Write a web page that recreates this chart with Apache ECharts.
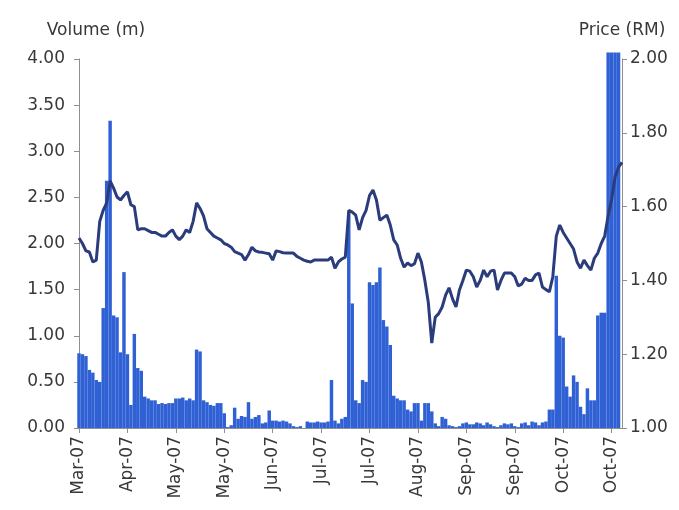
<!DOCTYPE html>
<html>
<head>
<meta charset="utf-8">
<script src="https://cdn.jsdelivr.net/npm/echarts@6/dist/echarts.min.js"></script>
<style>
html,body{margin:0;padding:0;background:#fff;}
#chart{width:679px;height:510px;}
</style>
</head>
<body>
<div id="chart"></div>
<script>
// Tick labels shown every 14 trading days
var xLabels = ['Mar-07','Apr-07','May-07','May-07','Jun-07','Jul-07','Jul-07','Aug-07','Sep-07','Sep-07','Oct-07','Oct-07'];

// Daily volume (million shares)
var volume = [
  0.81, 0.80, 0.78, 0.63, 0.60, 0.52, 0.50, 1.30, 2.68, 3.33,
  1.22, 1.20, 0.82, 1.69, 0.80, 0.25, 1.02, 0.65, 0.62, 0.34,
  0.32, 0.30, 0.30, 0.26, 0.27, 0.26, 0.27, 0.27, 0.32, 0.32,
  0.33, 0.30, 0.32, 0.30, 0.85, 0.83, 0.30, 0.28, 0.25, 0.24,
  0.27, 0.27, 0.16, 0.01, 0.03, 0.22, 0.10, 0.13, 0.12, 0.28,
  0.10, 0.12, 0.14, 0.05, 0.06, 0.19, 0.08, 0.08, 0.07, 0.08,
  0.07, 0.05, 0.02, 0.01, 0.02, 0.00, 0.07, 0.06, 0.06, 0.07,
  0.06, 0.06, 0.07, 0.52, 0.08, 0.05, 0.10, 0.12, 2.33, 1.35,
  0.30, 0.27, 0.52, 0.50, 1.58, 1.55, 1.58, 1.74, 1.17, 1.10,
  0.90, 0.35, 0.32, 0.30, 0.30, 0.20, 0.18, 0.27, 0.27, 0.08,
  0.27, 0.27, 0.18, 0.05, 0.02, 0.12, 0.10, 0.03, 0.02, 0.01,
  0.02, 0.05, 0.06, 0.04, 0.04, 0.06, 0.05, 0.03, 0.06, 0.04,
  0.02, 0.01, 0.03, 0.05, 0.04, 0.05, 0.02, 0.01, 0.05, 0.06,
  0.03, 0.07, 0.06, 0.03, 0.06, 0.07, 0.20, 0.20, 1.65, 1.00,
  0.98, 0.45, 0.34, 0.57, 0.50, 0.23, 0.15, 0.43, 0.30, 0.30,
  1.22, 1.25, 1.25, 4.07, 4.07, 4.07, 4.07, null
];

// Daily closing price (RM)
var price = [
  1.515, 1.50, 1.48, 1.477, 1.45, 1.455, 1.56, 1.59, 1.61, 1.67,
  1.65, 1.626, 1.618, 1.63, 1.64, 1.605, 1.60, 1.537, 1.54, 1.54,
  1.535, 1.53, 1.53, 1.525, 1.52, 1.52, 1.53, 1.537, 1.52, 1.51,
  1.52, 1.537, 1.53, 1.56, 1.61, 1.595, 1.575, 1.54, 1.53, 1.52,
  1.515, 1.51, 1.50, 1.496, 1.49, 1.478, 1.474, 1.47, 1.455, 1.47,
  1.49, 1.48, 1.477, 1.476, 1.474, 1.472, 1.455, 1.48, 1.478, 1.475,
  1.474, 1.474, 1.474, 1.465, 1.46, 1.455, 1.452, 1.45, 1.455, 1.455,
  1.455, 1.455, 1.455, 1.463, 1.433, 1.45, 1.458, 1.463, 1.59, 1.585,
  1.577, 1.537, 1.57, 1.59, 1.63, 1.645, 1.618, 1.563, 1.57, 1.577,
  1.55, 1.51, 1.496, 1.46, 1.436, 1.447, 1.44, 1.445, 1.474, 1.45,
  1.40, 1.34, 1.23, 1.30, 1.31, 1.328, 1.36, 1.38, 1.35, 1.328,
  1.374, 1.40, 1.428, 1.425, 1.41, 1.382, 1.40, 1.428, 1.41, 1.425,
  1.428, 1.374, 1.40, 1.42, 1.42, 1.42, 1.41, 1.385, 1.39, 1.406,
  1.40, 1.40, 1.415, 1.42, 1.382, 1.375, 1.369, 1.41, 1.52, 1.55,
  1.53, 1.515, 1.50, 1.485, 1.45, 1.433, 1.455, 1.44, 1.428, 1.46,
  1.474, 1.50, 1.52, 1.575, 1.62, 1.68, 1.707, 1.72
];

var LABEL_STEP = 14;
var categories = price.map(function (_, i) { return String(i); });

var FONT = 'DejaVu Sans';
var TEXT = '#383838';
var AXIS = '#8f8f8f';

var chart = echarts.init(document.getElementById('chart'), null, {renderer: 'canvas'});
chart.setOption({
  animation: false,
  backgroundColor: '#ffffff',
  grid: {left: 79, right: 57, top: 59, bottom: 82, containLabel: false},
  xAxis: {
    type: 'category',
    data: categories,
    boundaryGap: false,
    axisLine: {lineStyle: {color: AXIS, width: 1}},
    axisTick: {interval: LABEL_STEP - 1, length: 5, lineStyle: {color: AXIS}},
    axisLabel: {
      interval: LABEL_STEP - 1,
      rotate: 90,
      margin: 8,
      fontSize: 17,
      fontFamily: FONT,
      color: TEXT,
      formatter: function (v, i) {
        var k = i / LABEL_STEP;
        return (k === Math.floor(k) && xLabels[k]) ? xLabels[k] : '';
      }
    },
    splitLine: {show: false}
  },
  yAxis: [
    {
      type: 'value',
      position: 'left',
      min: 0, max: 4, interval: 0.5,
      name: 'Volume (m)',
      nameLocation: 'end',
      nameGap: 20,
      nameTextStyle: {fontSize: 17, fontFamily: FONT, color: TEXT, align: 'center', padding: [0, 0, 0, 34]},
      axisLine: {show: true, lineStyle: {color: AXIS}},
      axisTick: {show: true, length: 5, lineStyle: {color: AXIS}},
      axisLabel: {
        margin: 14, fontSize: 17, fontFamily: FONT, color: TEXT,
        formatter: function (v) { return v.toFixed(2); }
      },
      splitLine: {show: false}
    },
    {
      type: 'value',
      position: 'right',
      min: 1, max: 2, interval: 0.2,
      name: 'Price (RM)',
      nameLocation: 'end',
      nameGap: 20,
      nameTextStyle: {fontSize: 17, fontFamily: FONT, color: TEXT, align: 'center'},
      axisLine: {show: true, lineStyle: {color: AXIS}},
      axisTick: {show: true, length: 5, lineStyle: {color: AXIS}},
      axisLabel: {
        margin: 8, fontSize: 17, fontFamily: FONT, color: TEXT,
        formatter: function (v) { return v.toFixed(2); }
      },
      splitLine: {show: false}
    }
  ],
  series: [
    {
      name: 'Volume',
      type: 'bar',
      yAxisIndex: 0,
      data: volume,
      barCategoryGap: '0%',
      barWidth: '100%',
      clip: false,
      itemStyle: {color: '#2f60d4'},
      z: 2
    },
    {
      name: 'Price',
      type: 'line',
      yAxisIndex: 1,
      data: price,
      symbol: 'none',
      smooth: false,
      lineStyle: {color: '#2b3c7c', width: 3},
      z: 3
    }
  ]
});
</script>
</body>
</html>
